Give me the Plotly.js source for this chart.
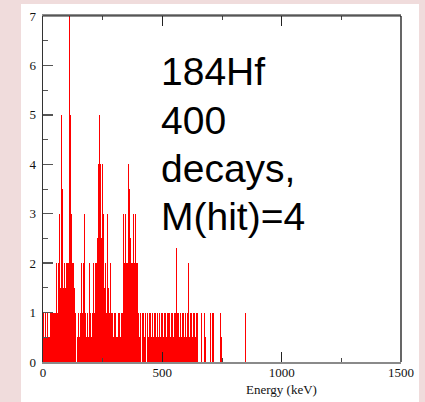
<!DOCTYPE html>
<html>
<head>
<meta charset="utf-8">
<script src="https://cdn.plot.ly/plotly-3.0.1.min.js"></script>
<style>
  html, body { margin: 0; padding: 0; background: #f0dcdc; width: 425px; height: 402px; overflow: hidden; }
  #plot { position: absolute; left: 21px; top: 4px; width: 398px; height: 398px; background: #ffffff; }
</style>
</head>
<body>
<div id="plot"></div>
<script>
// Histogram: counts per 4 keV energy bin starting at 0 keV
const binStartKeV = 0;
const binWidthKeV = 4;
const counts = [
  1,0.5,1,0.5,1,0.5,0.5,1,1,1,
  1,0.5,1,1,2,1,2,3,1.5,5,
  3.5,1.5,2,1.5,2,2,2,7,5,3,
  2,2,1.5,1.5,1,0,0.5,1,0.5,1,
  2,1,2,3,1,0.5,1,0.5,2,1,
  0.5,1,2,1,2,1.5,2,2.5,4,5,
  4,2.5,4,3,1.5,2,1,3,1.5,1,
  2,1,1,0.5,1,1,0.5,1,0.5,1,
  1,0.5,1,1,3,2,3,2,2,4,
  3.5,2.5,2,2,3,2,3,2,2,2,
  1,0.5,1,0,1,1,0.5,1,0,1,
  0.5,1,1,0.5,1,0.5,1,1,0.5,1,
  0.5,1,1,0.5,1,1,0.5,1,1,0.5,
  1,1,1,0.5,1,1,0.5,1,1,2.3,
  1,1,0.5,1,1,0.5,1,1,0.5,1,
  0.5,1,2,0.5,1,1,0.5,1,1,0.5,
  1,1,0,0,0,0,1,0,0,1,
  0.5,0,0,0,0,1,0,1,1,0,
  0,0,0,0,0,1,0.5,0,0,0,
  0,0,0,0,0,0,0,0,0,0,
  0,0,0,0,0,0,0,0,0,1,
  0,0,1
];
const xTickVals = [0, 500, 1000, 1500];
const yTickVals = [0, 1, 2, 3, 4, 5, 6, 7];
const xTitle = 'Energy (keV)';
const labelLines = ['184Hf', '400', 'decays,', 'M(hit)=4'];

const energies = counts.map((c, i) => binStartKeV + binWidthKeV * (i + 0.5));

const serif = 'Liberation Serif, Times New Roman, serif';

const trace = {
  type: 'bar',
  x: energies,
  y: counts,
  width: binWidthKeV,
  marker: { color: '#ff0000', line: { width: 0 } },
  hoverinfo: 'x+y'
};

// text block placement (layout only)
const labelX = 488;
const labelTopY = 5.87;
const labelStep = 0.978;

const annotations = labelLines.map((t, k) => ({
  text: t,
  xref: 'x', yref: 'y',
  x: labelX, y: labelTopY - k * labelStep,
  xanchor: 'left', yanchor: 'middle',
  align: 'left',
  showarrow: false,
  font: { family: 'Liberation Sans, Arial, sans-serif', size: 39, color: '#000' }
}));
annotations.push({
  text: xTitle,
  xref: 'x', yref: 'paper',
  x: 1000, y: 0,
  xanchor: 'center', yanchor: 'middle',
  yshift: -27,
  showarrow: false,
  font: { family: serif, size: 13, color: '#111' }
});

const layout = {
  width: 398,
  height: 398,
  margin: { l: 22, r: 18, t: 12, b: 40 },
  paper_bgcolor: '#ffffff',
  plot_bgcolor: '#ffffff',
  showlegend: false,
  bargap: 0,
  xaxis: {
    range: [0, 1500],
    tickvals: xTickVals,
    ticktext: xTickVals.map(String),
    ticks: 'inside',
    ticklen: 10,
    tickwidth: 1,
    tickcolor: '#222',
    showline: true,
    linecolor: '#8a8a8a',
    linewidth: 2,
    mirror: 'ticks',
    showgrid: false,
    zeroline: false,
    minor: { dtick: 250, tick0: 0, ticks: 'inside', ticklen: 4, tickcolor: '#444', tickwidth: 1 },
    tickfont: { family: serif, size: 13, color: '#111' },
    ticklabelstandoff: -3,
    fixedrange: true
  },
  yaxis: {
    range: [0, 7],
    tickvals: yTickVals,
    ticktext: yTickVals.map(String),
    ticks: 'inside',
    ticklen: 10,
    tickwidth: 1.5,
    tickcolor: '#555',
    showline: true,
    linecolor: '#333',
    linewidth: 1.5,
    mirror: false,
    showgrid: false,
    zeroline: false,
    minor: { dtick: 0.5, tick0: 0, ticks: 'inside', ticklen: 5, tickcolor: '#555', tickwidth: 1 },
    tickfont: { family: serif, size: 13, color: '#111' },
    ticklabelstandoff: 3,
    fixedrange: true
  },
  shapes: [
    { type: 'line', xref: 'paper', yref: 'paper', x0: 0, x1: 1, y0: 1, y1: 1, line: { color: '#222', width: 1.2 }, layer: 'above' },
    { type: 'line', xref: 'paper', yref: 'paper', x0: 1, x1: 1, y0: 0, y1: 1, line: { color: '#000', width: 1.2 }, layer: 'above' }
  ],
  annotations: annotations
};

Plotly.newPlot('plot', [trace], layout, { displayModeBar: false, staticPlot: true });
</script>
</body>
</html>
